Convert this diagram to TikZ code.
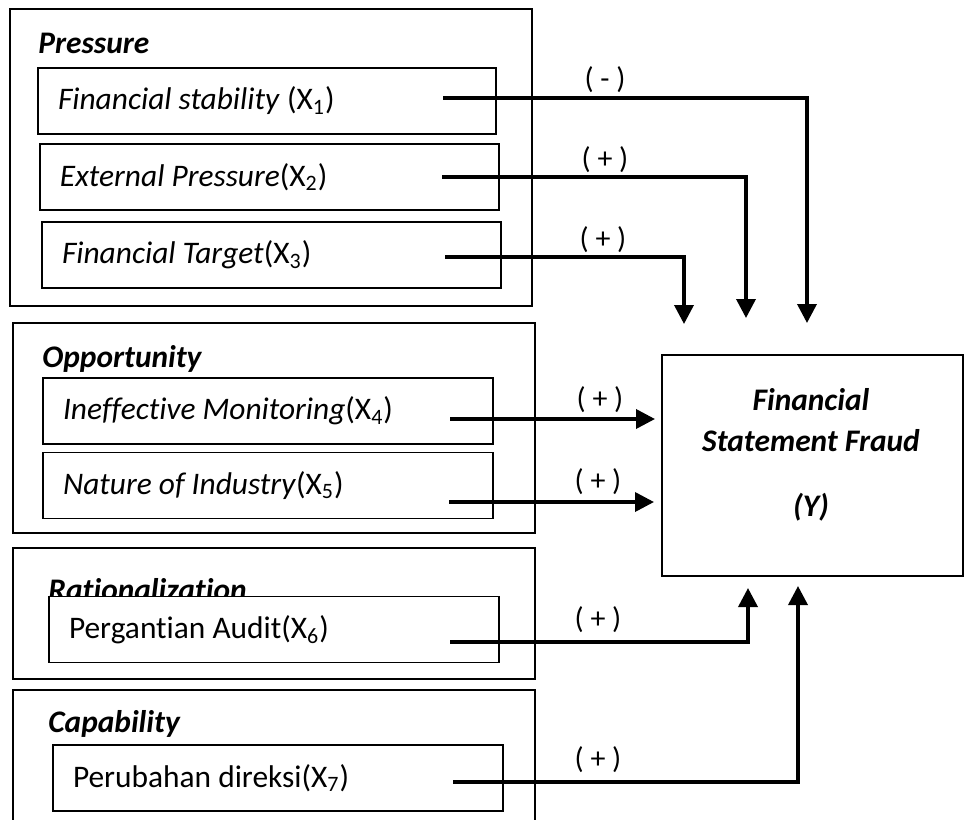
\documentclass[tikz,border=0pt]{standalone}
\usepackage{fontspec}
\setmainfont{Carlito}[Ligatures=NoCommon]
\usetikzlibrary{arrows.meta}
\tikzset{
	grpbox/.style={draw, line width=1.3pt, minimum width=261pt},
	inbox/.style={draw, fill=white, line width=0.6pt, minimum height=33pt, inner xsep=10pt, align=flush left, font=\fontsize{15.7}{18}\selectfont},
	head/.style={anchor=base west, inner sep=0pt, font=\fontsize{15.7}{18}\selectfont\bfseries\itshape},
	sign/.style={font=\fontsize{15}{17}\selectfont},
	link/.style={line width=1.8pt, ->}
}

\begin{document}
\begin{tikzpicture}[line cap=butt,line join=miter,>={Triangle[width=9.5pt,length=9.5pt]},x=0.5pt,y=-0.5pt]
			\clip(0,0) rectangle (965,820);
			% groups
			\node [grpbox, minimum height=148.5pt] (pres) at (271,157.5) {};
			\node [grpbox, minimum height=105pt] (oppo) at (274,428) {};
			\node [grpbox, minimum height=65.5pt] (rati) at (274,613.5) {};
			\node [grpbox, minimum height=75pt] (capa) at (274,765) {};
			\node [head] (hP) at (38,53) {Pressure};
			\node [head] (hO) at (42,367) {Opportunity};
			\node [head] (hR) at (48,600) {Rationalization};
			\node [head] (hC) at (48,732) {Capability};
			% variables
			\node [inbox, minimum width=229pt, text width=209pt] (fs) at (267,101) {\textit{Financial stability} (X\textsubscript{1})};
			\node [inbox, minimum width=229.5pt, text width=209.5pt] (ep) at (269.5,177) {\textit{External Pressure}(X\textsubscript{2})};
			\node [inbox, minimum width=229.5pt, text width=209.5pt] (ft) at (271.5,255) {\textit{Financial Target}(X\textsubscript{3})};
			\node [inbox, minimum width=225pt, text width=205pt] (im) at (268,411) {\textit{Ineffective Monitoring}(X\textsubscript{4})};
			\node [inbox, minimum width=225pt, text width=205pt] (ni) at (268,485.5) {\textit{Nature of Industry}(X\textsubscript{5})};
			\node [inbox, minimum width=225pt, text width=205pt] (pa) at (274,629.5) {Pergantian Audit(X\textsubscript{6})};
			\node [inbox, minimum width=225pt, text width=205pt] (pd) at (278,778) {Perubahan direksi(X\textsubscript{7})};
			% dependent
			\node [draw, line width=1.3pt, minimum width=150.5pt, minimum height=110.5pt] (fraud) at (812.5,465.5) {};
			\node [align=center, font=\fontsize{15.7}{20.5}\selectfont\bfseries\itshape] (fraudtxt) at (811,455) {Financial\\Statement Fraud\\[12pt](Y)};
			% arrow ends
			\coordinate (s1) at (443,98);
			\coordinate (t1) at (807,323);
			\coordinate (s2) at (442,177);
			\coordinate (t2) at (746,318);
			\coordinate (s3) at (445,257);
			\coordinate (t3) at (684,324);
			\coordinate (s4) at (450,419);
			\coordinate (t4) at (655,419);
			\coordinate (s5) at (449,502);
			\coordinate (t5) at (654,502);
			\coordinate (s6) at (450,642);
			\coordinate (t6) at (748,588);
			\coordinate (s7) at (453,782);
			\coordinate (t7) at (798,586);
			\draw [link] (s1) -| (t1);
			\draw [link] (s2) -| (t2);
			\draw [link] (s3) -| (t3);
			\draw [link] (s4) -- (t4);
			\draw [link] (s5) -- (t5);
			\draw [link] (s6) -| (t6);
			\draw [link] (s7) -| (t7);
			\node [sign] (g1) at (605,80) {( - )};
			\node [sign] (g2) at (605,160) {( + )};
			\node [sign] (g3) at (603,240) {( + )};
			\node [sign] (g4) at (600,400) {( + )};
			\node [sign] (g5) at (598,482) {( + )};
			\node [sign] (g6) at (598,620) {( + )};
			\node [sign] (g7) at (598,760) {( + )};
		\end{tikzpicture}
\end{document}
